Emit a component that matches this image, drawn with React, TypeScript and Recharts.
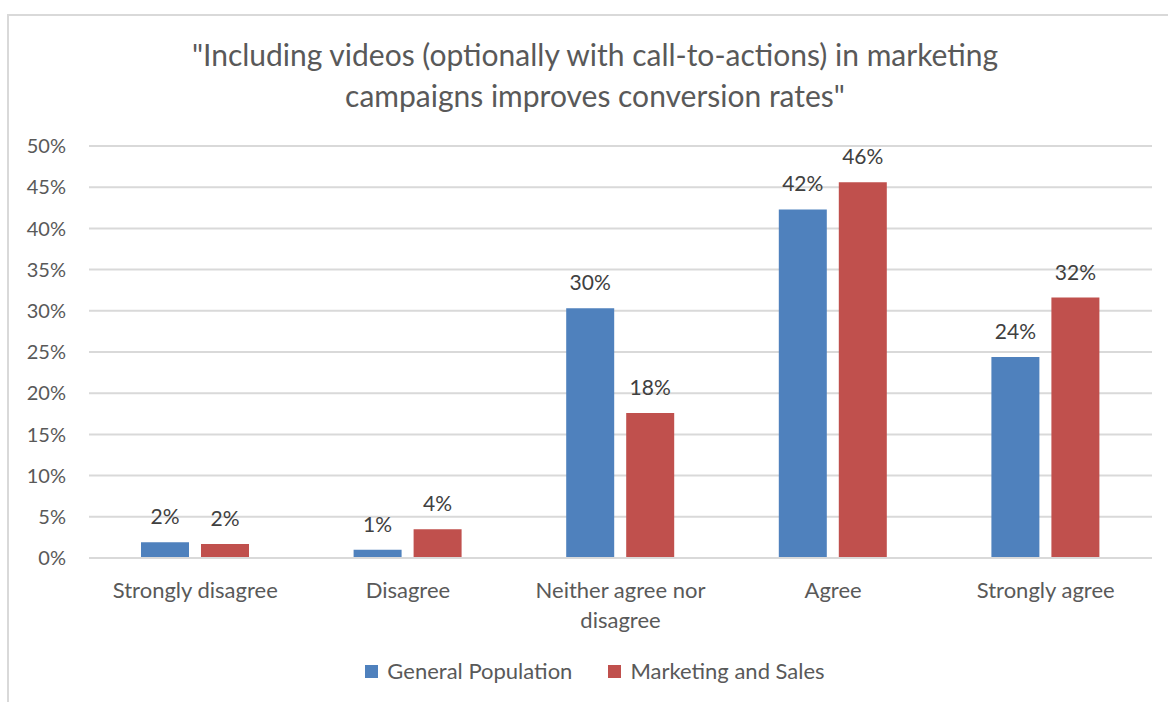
import { Bar, BarChart, CartesianGrid, LabelList, XAxis, YAxis } from "recharts";

const categories = [
  "Strongly disagree",
  "Disagree",
  "Neither agree nor disagree",
  "Agree",
  "Strongly agree",
];
// how each category label wraps under the axis
const categoryLines = [
  ["Strongly disagree"],
  ["Disagree"],
  ["Neither agree nor", "disagree"],
  ["Agree"],
  ["Strongly agree"],
];
const generalPopulation = [1.9, 1.0, 30.3, 42.3, 24.4];
const marketingSales = [1.7, 3.5, 17.6, 45.6, 31.6];
const yTicks = [0, 5, 10, 15, 20, 25, 30, 35, 40, 45, 50];
const seriesNames = ["General Population", "Marketing and Sales"];
const titleLines = [
  "\"Including videos (optionally with call-to-actions) in marketing",
  "campaigns improves conversion rates\"",
];

const BLUE = "#4f81bd";
const RED = "#c0504d";
const TEXT = "#595959";
const LABEL = "#404040";
const GRID = "#d9d9d9";
const FONT = "Lato, 'Open Sans', sans-serif";

const data = categories.map((name, i) => ({
  name,
  lines: categoryLines[i],
  gp: generalPopulation[i],
  ms: marketingSales[i],
}));

function CategoryTick({ x, y, index }: any) {
  const lines = categoryLines[index] ?? [];
  return (
    <text
      x={x}
      y={y}
      textAnchor="middle"
      fill={TEXT}
      style={{ fontSize: 22, fontFamily: FONT }}
    >
      {lines.map((l: string, i: number) => (
        <tspan key={l} x={x} dy={i === 0 ? "0.71em" : 30}>
          {l}
        </tspan>
      ))}
    </text>
  );
}

const pct = (v: any) => `${Math.round(Number(v))}%`;

export default function App() {
  return (
    <div
      style={{
        position: "absolute",
        left: 0,
        top: 0,
        width: 1168,
        height: 702,
        background: "#fff",
        fontFamily: FONT,
        overflow: "hidden",
      }}
    >
      {/* chart frame, only top and left edges visible */}
      <div
        style={{
          position: "absolute",
          left: 7,
          top: 14,
          width: 1200,
          height: 720,
          borderTop: `2px solid ${GRID}`,
          borderLeft: `2px solid ${GRID}`,
        }}
      />
      <div
        style={{
          position: "absolute",
          left: 0,
          width: 1190,
          top: 34,
          textAlign: "center",
          color: TEXT,
          fontSize: 30,
          lineHeight: "41px",
        }}
      >
        {titleLines.map((l) => (
          <div key={l}>{l}</div>
        ))}
      </div>
      <div style={{ position: "absolute", left: 0, top: 0 }}>
        <BarChart
          width={1168}
          height={702}
          data={data}
          margin={{ top: 146, right: 16, bottom: 84, left: 9 }}
          barGap={12}
        >
          <CartesianGrid stroke={GRID} strokeWidth={2} vertical={false} />
          <XAxis
            dataKey="name"
            height={60}
            tickLine={false}
            axisLine={{ stroke: GRID, strokeWidth: 2 }}
            tick={<CategoryTick />}
            tickMargin={18}
            interval={0}
          />
          <YAxis
            width={80}
            domain={[0, 50]}
            ticks={yTicks}
            tickFormatter={(v) => `${v}%`}
            tickLine={false}
            axisLine={false}
            tickMargin={17}
            tick={{ fill: TEXT, fontSize: 20, fontFamily: FONT }}
          />
          <Bar dataKey="gp" name={seriesNames[0]} fill={BLUE} barSize={48} isAnimationActive={false}>
            <LabelList
              dataKey="gp"
              position="top"
              offset={18}
              formatter={pct}
              style={{ fill: LABEL, fontSize: 21, fontFamily: FONT }}
            />
          </Bar>
          <Bar dataKey="ms" name={seriesNames[1]} fill={RED} barSize={48} isAnimationActive={false}>
            <LabelList
              dataKey="ms"
              position="top"
              offset={18}
              formatter={pct}
              style={{ fill: LABEL, fontSize: 21, fontFamily: FONT }}
            />
          </Bar>
        </BarChart>
      </div>
      <div
        style={{
          position: "absolute",
          left: 0,
          width: 1190,
          top: 657,
          display: "flex",
          justifyContent: "center",
          gap: 36,
          color: TEXT,
          fontSize: 22,
          lineHeight: "28px",
        }}
      >
        {seriesNames.map((n, i) => (
          <div key={n} style={{ display: "flex", alignItems: "center" }}>
            <span
              style={{
                width: 13,
                height: 13,
                background: i === 0 ? BLUE : RED,
                marginRight: 9,
                display: "inline-block",
              }}
            />
            {n}
          </div>
        ))}
      </div>
    </div>
  );
}
